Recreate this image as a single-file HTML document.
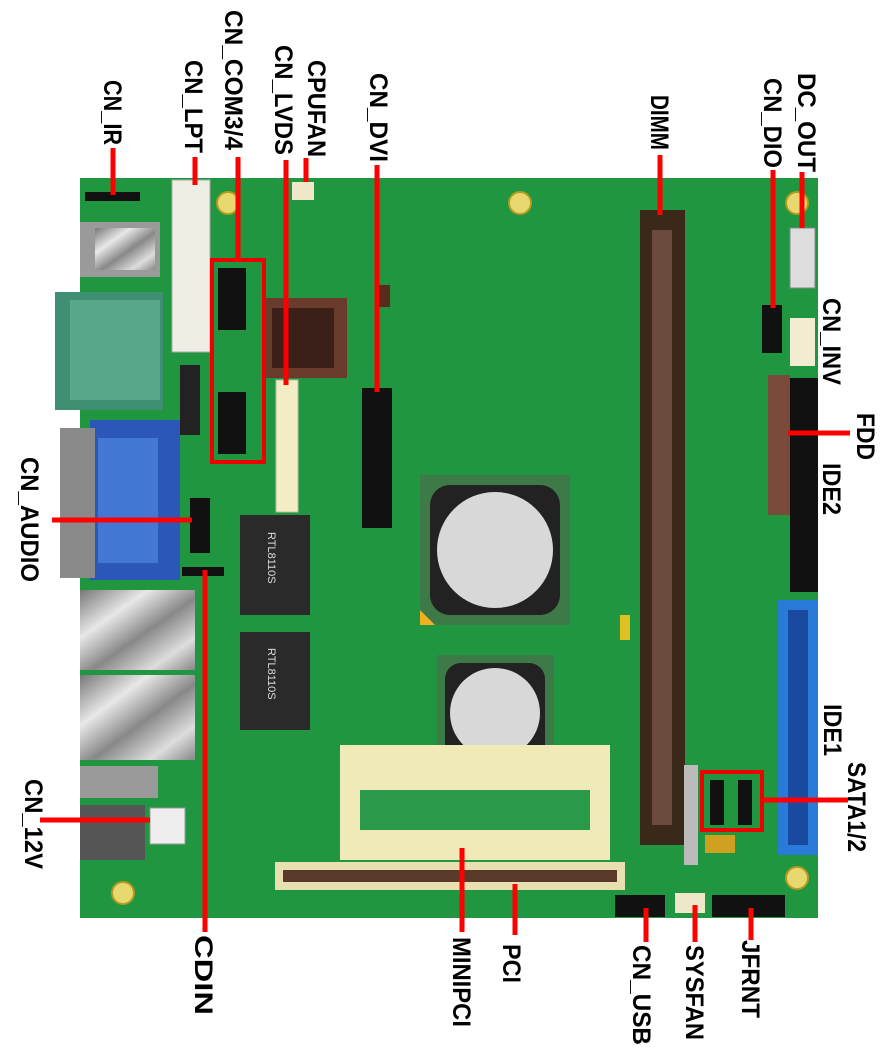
<!DOCTYPE html>
<html><head><meta charset="utf-8"><style>
html,body{margin:0;padding:0;background:#fff;}
svg{display:block}
text{font-family:"Liberation Sans",sans-serif;font-weight:bold;font-size:25px;fill:#000}
</style></head><body>
<svg width="888" height="1058" viewBox="0 0 888 1058" xmlns="http://www.w3.org/2000/svg">
<defs>
<linearGradient id="sil" x1="0" y1="0" x2="1" y2="1">
<stop offset="0" stop-color="#777"/><stop offset="0.3" stop-color="#e8e8e8"/><stop offset="0.55" stop-color="#888"/><stop offset="0.8" stop-color="#ddd"/><stop offset="1" stop-color="#888"/>
</linearGradient>
</defs>
<rect x="80" y="178" width="738" height="740" fill="#1f963f"/>
<g fill="#e8d870" stroke="#b49a20" stroke-width="2">
<circle cx="228" cy="203" r="11"/><circle cx="520" cy="203" r="11"/><circle cx="797" cy="203" r="11"/>
<circle cx="123" cy="893" r="11"/><circle cx="797" cy="878" r="11"/>
</g>
<rect x="80" y="222" width="80" height="55" fill="#9a9a9a"/>
<rect x="95" y="228" width="60" height="42" fill="url(#sil)"/>
<rect x="55" y="292" width="108" height="118" fill="#3f8f72"/>
<rect x="70" y="300" width="90" height="100" fill="#5aa88a"/>
<rect x="90" y="420" width="90" height="160" fill="#2b58b8"/>
<rect x="60" y="428" width="35" height="150" fill="#8a8a8a"/>
<rect x="98" y="438" width="60" height="125" fill="#4277d4"/>
<rect x="80" y="590" width="115" height="80" fill="url(#sil)"/>
<rect x="80" y="675" width="115" height="85" fill="url(#sil)"/>
<rect x="80" y="766" width="78" height="32" fill="#9a9a9a"/>
<rect x="80" y="805" width="65" height="55" fill="#555"/>
<rect x="150" y="808" width="35" height="36" fill="#eee" stroke="#999"/>
<rect x="85" y="192" width="55" height="9" fill="#111"/>
<rect x="172" y="180" width="38" height="172" fill="#eeeee4" stroke="#aaa"/>
<rect x="292" y="182" width="22" height="18" fill="#eee8c8"/>
<rect x="218" y="268" width="28" height="62" fill="#111"/>
<rect x="218" y="392" width="28" height="62" fill="#111"/>
<rect x="180" y="365" width="20" height="70" fill="#222"/>
<rect x="190" y="498" width="20" height="55" fill="#111"/>
<rect x="182" y="567" width="42" height="9" fill="#111"/>
<rect x="262" y="298" width="85" height="80" fill="#6a3a2a"/>
<rect x="272" y="308" width="62" height="60" fill="#3a2018"/>
<rect x="378" y="285" width="12" height="22" fill="#5a2a1a"/>
<rect x="276" y="380" width="22" height="132" fill="#f3ecc4" stroke="#bba"/>
<rect x="362" y="388" width="30" height="140" fill="#111"/>
<rect x="240" y="515" width="70" height="100" fill="#2a2a2a"/>
<rect x="240" y="632" width="70" height="98" fill="#2a2a2a"/>
<text transform="translate(268,532) rotate(90)" style="font-size:11px;font-weight:normal;fill:#ddd">RTL8110S</text>
<text transform="translate(268,648) rotate(90)" style="font-size:11px;font-weight:normal;fill:#ddd">RTL8110S</text>
<rect x="420" y="475" width="150" height="150" fill="#3e7a48"/>
<rect x="430" y="485" width="130" height="130" rx="20" fill="#222"/>
<circle cx="495" cy="550" r="58" fill="#d8d8d8"/>
<polygon points="420,610 435,625 420,625" fill="#f0b020"/>
<rect x="437" y="655" width="117" height="117" fill="#3e7a48"/>
<rect x="445" y="663" width="100" height="100" rx="16" fill="#222"/>
<circle cx="495" cy="713" r="45" fill="#d8d8d8"/>
<rect x="620" y="615" width="10" height="25" fill="#e0c020"/>
<rect x="640" y="210" width="45" height="635" fill="#3a2818"/>
<rect x="652" y="230" width="20" height="595" fill="#6a4a3a"/>
<rect x="684" y="765" width="14" height="100" fill="#bbb"/>
<rect x="790" y="228" width="25" height="60" fill="#ddd" stroke="#888"/>
<rect x="762" y="305" width="20" height="48" fill="#111"/>
<rect x="790" y="318" width="25" height="48" fill="#f2ecd0"/>
<rect x="768" y="375" width="22" height="140" fill="#7a4a3a"/>
<rect x="790" y="378" width="28" height="214" fill="#111"/>
<rect x="778" y="600" width="40" height="255" fill="#2a7ad8"/>
<rect x="788" y="610" width="20" height="235" fill="#1a4aa0"/>
<rect x="710" y="780" width="14" height="45" fill="#111"/>
<rect x="738" y="780" width="14" height="45" fill="#111"/>
<rect x="705" y="835" width="30" height="18" fill="#d0a020"/>
<rect x="340" y="745" width="270" height="115" fill="#f0eab8"/>
<rect x="360" y="790" width="230" height="40" fill="#2a9a4a"/>
<rect x="275" y="862" width="350" height="28" fill="#e8e0b0"/>
<rect x="283" y="870" width="334" height="12" fill="#5a3a2a"/>
<rect x="615" y="895" width="50" height="22" fill="#111"/>
<rect x="675" y="893" width="30" height="20" fill="#eee8c8"/>
<rect x="712" y="895" width="73" height="22" fill="#111"/>
<g fill="none" stroke="#e00" stroke-width="4">
<rect x="212" y="260" width="52" height="202"/>
<rect x="702" y="772" width="60" height="58"/>
</g>
<g stroke="#f00" stroke-width="5" fill="none">
<line x1="113" y1="148" x2="113" y2="195"/>
<line x1="195" y1="157" x2="195" y2="185"/>
<line x1="238" y1="157" x2="238" y2="262"/>
<line x1="286" y1="160" x2="286" y2="385"/>
<line x1="306" y1="158" x2="306" y2="182"/>
<line x1="377" y1="165" x2="377" y2="392"/>
<line x1="660" y1="155" x2="660" y2="215"/>
<line x1="773" y1="170" x2="773" y2="308"/>
<line x1="802" y1="172" x2="802" y2="228"/>
<line x1="52" y1="520" x2="192" y2="520"/>
<line x1="40" y1="820" x2="150" y2="820"/>
<line x1="205" y1="570" x2="205" y2="932"/>
<line x1="462" y1="848" x2="462" y2="932"/>
<line x1="515" y1="884" x2="515" y2="935"/>
<line x1="646" y1="908" x2="646" y2="942"/>
<line x1="695" y1="905" x2="695" y2="942"/>
<line x1="751" y1="908" x2="751" y2="940"/>
<line x1="788" y1="433" x2="850" y2="433"/>
<line x1="762" y1="800" x2="848" y2="800"/>
</g>
<text transform="translate(104,80) rotate(90)" textLength="65" lengthAdjust="spacingAndGlyphs">CN_IR</text>
<text transform="translate(185,60) rotate(90)" textLength="93" lengthAdjust="spacingAndGlyphs">CN_LPT</text>
<text transform="translate(225,10) rotate(90)" textLength="140" lengthAdjust="spacingAndGlyphs">CN_COM3/4</text>
<text transform="translate(275,45) rotate(90)" textLength="110" lengthAdjust="spacingAndGlyphs">CN_LVDS</text>
<text transform="translate(308,60) rotate(90)" textLength="97" lengthAdjust="spacingAndGlyphs">CPUFAN</text>
<text transform="translate(370,73) rotate(90)" textLength="89" lengthAdjust="spacingAndGlyphs">CN_DVI</text>
<text transform="translate(651,95) rotate(90)" textLength="55" lengthAdjust="spacingAndGlyphs">DIMM</text>
<text transform="translate(764,78) rotate(90)" textLength="90" lengthAdjust="spacingAndGlyphs">CN_DIO</text>
<text transform="translate(798,73) rotate(90)" textLength="99" lengthAdjust="spacingAndGlyphs">DC_OUT</text>
<text transform="translate(823,298) rotate(90)" textLength="87" lengthAdjust="spacingAndGlyphs">CN_INV</text>
<text transform="translate(857,413) rotate(90)" textLength="47" lengthAdjust="spacingAndGlyphs">FDD</text>
<text transform="translate(823,463) rotate(90)" textLength="52" lengthAdjust="spacingAndGlyphs">IDE2</text>
<text transform="translate(824,704) rotate(90)" textLength="52" lengthAdjust="spacingAndGlyphs">IDE1</text>
<text transform="translate(848,762) rotate(90)" textLength="90" lengthAdjust="spacingAndGlyphs">SATA1/2</text>
<text transform="translate(21,457) rotate(90)" textLength="125" lengthAdjust="spacingAndGlyphs">CN_AUDIO</text>
<text transform="translate(25,779) rotate(90)" textLength="90" lengthAdjust="spacingAndGlyphs">CN_12V</text>
<text transform="translate(195,935) rotate(90)" textLength="80" lengthAdjust="spacingAndGlyphs">CDIN</text>
<text transform="translate(453,937) rotate(90)" textLength="90" lengthAdjust="spacingAndGlyphs">MINIPCI</text>
<text transform="translate(503,944) rotate(90)" textLength="39" lengthAdjust="spacingAndGlyphs">PCI</text>
<text transform="translate(633,945) rotate(90)" textLength="100" lengthAdjust="spacingAndGlyphs">CN_USB</text>
<text transform="translate(686,945) rotate(90)" textLength="95" lengthAdjust="spacingAndGlyphs">SYSFAN</text>
<text transform="translate(742,940) rotate(90)" textLength="78" lengthAdjust="spacingAndGlyphs">JFRNT</text>
</svg>
</body></html>
